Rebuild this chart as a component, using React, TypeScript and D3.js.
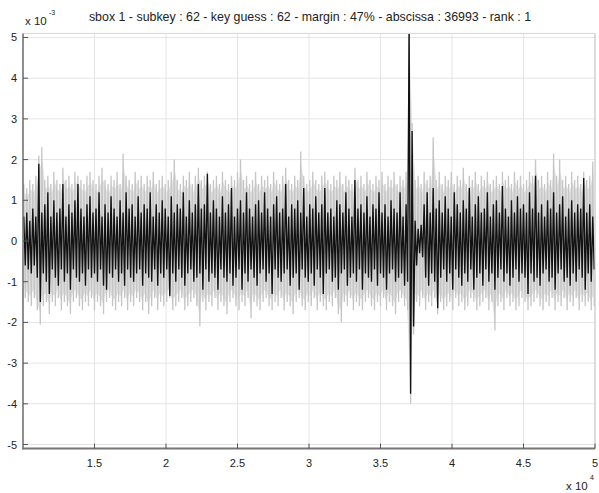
import React from "react";
import * as d3 from "d3";

const TITLE = "sbox 1 - subkey : 62 - key guess : 62 - margin : 47% - abscissa : 36993 - rank : 1";
const X_MIN = 10000;
const X_MAX = 50000;
const xTicks = [15000, 20000, 25000, 30000, 35000, 40000, 45000, 50000];
const xTickLabels = ["1.5", "2", "2.5", "3", "3.5", "4", "4.5", "5"];
const yTicks = [-5, -4, -3, -2, -1, 0, 1, 2, 3, 4, 5];

// Black trace (best key guess), per-bin max / min, units of 1e-3
const blackHi = [
  0.6, 0.7, 0.5, 0.8, 0.6, 1.9, 0.7, 0.9, 1.2, 0.6,
  1.0, 0.7, 0.8, 1.4, 0.6, 0.9, 0.7, 1.0, 1.4, 0.8,
  0.6, 0.9, 1.1, 0.7, 0.8, 1.2, 0.6, 0.9, 0.7, 1.1,
  0.8, 0.6, 1.0, 0.7, 1.2, 0.8, 0.9, 0.6, 1.1, 0.7,
  0.9, 0.8, 1.2, 0.6, 0.9, 0.7, 1.0, 0.8, 0.6, 1.1,
  0.7, 0.9, 0.8, 1.2, 0.6, 1.0, 0.7, 0.9, 1.4, 0.8,
  0.9, 1.65, 0.7, 1.0, 0.8, 0.6, 1.1, 0.7, 0.9, 1.3,
  0.6, 0.8, 1.0, 0.7, 1.2, 0.8, 0.6, 0.9, 1.0, 0.7,
  1.2, 0.8, 0.6, 0.9, 1.1, 0.7, 0.8, 1.4, 0.6, 0.9,
  0.8, 1.0, 0.7, 1.3, 0.6, 0.9, 0.8, 1.1, 0.7, 0.9,
  1.3, 0.7, 0.8, 0.6, 1.0, 0.9, 0.7, 1.2, 0.8, 0.6,
  1.5, 0.8, 0.9, 0.7, 1.1, 0.6, 0.9, 0.8, 1.2, 0.7,
  0.9, 0.6, 1.0, 0.8, 0.7, 1.2, 0.6, 0.9, 5.3, 2.7,
  0.5, 0.3, 0.4, 0.9, 1.2, 0.7, 1.3, 0.8, 1.0, 0.7,
  1.1, 0.8, 0.6, 1.2, 0.9, 0.7, 1.0, 0.8, 1.3, 0.6,
  0.9, 1.1, 0.7, 0.8, 1.2, 0.6, 0.9, 1.0, 0.7, 1.35,
  0.8, 0.6, 1.0, 0.7, 1.1, 0.8, 0.9, 0.7, 1.2, 0.8,
  1.6, 0.7, 0.9, 0.6, 1.0, 0.8, 1.2, 0.7, 0.9, 1.1,
  0.6, 0.8, 1.0, 0.7, 0.9, 0.8, 1.55, 0.7, 0.9, 0.6,
];
const blackLo = [
  -0.6, -0.7, -0.8, -0.6, -0.9, -1.5, -0.8, -1.0, -1.3, -0.7,
  -0.9, -1.1, -0.7, -1.0, -0.8, -1.2, -0.7, -0.9, -1.0, -0.8,
  -1.1, -0.7, -0.9, -0.8, -1.0, -0.7, -1.1, -1.2, -0.8, -0.9,
  -0.7, -1.0, -0.8, -1.1, -0.7, -0.9, -1.0, -0.8, -0.7, -1.1,
  -0.8, -0.9, -1.0, -0.7, -1.1, -0.8, -0.9, -0.7, -1.35, -0.8,
  -1.0, -0.7, -0.9, -1.1, -0.8, -0.7, -1.0, -0.9, -0.8, -1.2,
  -0.7, -1.0, -0.8, -0.9, -1.2, -0.7, -0.9, -1.0, -0.8, -1.1,
  -0.9, -0.7, -1.2, -0.8, -1.0, -0.7, -0.9, -1.1, -0.8, -0.7,
  -1.0, -0.8, -1.3, -0.7, -0.9, -1.0, -0.8, -0.7, -1.1, -0.9,
  -0.8, -1.2, -0.7, -0.9, -1.0, -0.8, -1.1, -0.7, -0.9, -1.3,
  -0.8, -0.7, -1.0, -0.9, -1.2, -0.8, -0.7, -1.1, -0.9, -0.8,
  -1.0, -0.7, -1.2, -0.8, -0.9, -1.0, -0.7, -1.1, -0.8, -0.9,
  -1.2, -0.8, -0.7, -1.0, -0.9, -0.8, -1.1, -1.0, -3.75, -2.1,
  -0.6, -0.3, -0.4, -0.9, -1.1, -0.8, -1.0, -1.65, -0.9, -0.7,
  -1.0, -0.8, -1.2, -0.7, -0.9, -1.1, -0.8, -1.0, -0.7, -1.2,
  -0.9, -0.8, -1.1, -0.7, -1.0, -0.8, -1.2, -0.9, -0.7, -1.0,
  -0.8, -1.1, -0.9, -0.7, -1.0, -0.8, -0.9, -1.3, -0.8, -1.0,
  -0.9, -1.1, -0.8, -0.7, -1.0, -0.9, -1.2, -0.8, -0.7, -1.0,
  -0.9, -1.1, -0.8, -1.0, -0.7, -0.9, -1.2, -0.8, -1.0, -0.7,
];
// Gray traces (other key guesses), per-bin max / min, units of 1e-3
const grayHi = [
  1.4, 1.3, 1.5, 1.4, 1.6, 2.1, 2.3, 1.5, 1.6, 1.4,
  1.7, 1.5, 1.4, 1.8, 1.5, 1.6, 1.4, 1.7, 1.6, 1.5,
  1.4, 1.6, 1.7, 1.5, 1.4, 1.6, 1.8, 1.5, 1.4, 1.6,
  1.5, 1.7, 1.4, 2.15, 1.6, 1.5, 1.4, 1.7, 1.5, 1.6,
  1.4, 1.6, 1.5, 1.7, 1.4, 1.5, 1.6, 1.4, 1.5, 1.7,
  2.0, 1.5, 1.4, 1.6, 1.5, 1.7, 1.4, 1.6, 1.8, 1.5,
  1.6, 1.7, 1.4, 1.5, 1.6, 1.4, 1.7, 1.5, 1.4, 1.6,
  1.5, 1.7, 2.0, 1.5, 1.6, 1.4, 1.5, 1.7, 1.4, 1.6,
  1.5, 1.6, 1.4, 1.7, 1.5, 1.4, 1.6, 1.8, 1.5, 1.4,
  1.6, 1.5, 2.2, 1.6, 1.4, 1.5, 1.7, 1.5, 1.4, 1.6,
  1.7, 1.5, 1.4, 1.6, 1.5, 1.7, 1.4, 1.6, 1.5, 1.4,
  1.8, 1.5, 1.6, 1.4, 1.7, 1.5, 1.4, 1.6, 1.5, 1.7,
  1.4, 1.6, 1.5, 1.7, 1.4, 1.6, 1.5, 1.7, 5.3, 2.9,
  1.5, 1.6, 1.4, 1.7, 1.5, 1.6, 2.55, 1.5, 1.7, 1.4,
  1.6, 1.5, 1.7, 1.4, 1.6, 1.5, 1.8, 1.4, 1.6, 1.5,
  1.7, 1.4, 1.6, 1.5, 1.7, 1.4, 1.5, 1.6, 1.4, 1.7,
  1.5, 1.6, 1.4, 1.7, 1.5, 1.6, 1.4, 1.5, 1.7, 1.6,
  2.0, 1.5, 1.6, 1.4, 1.7, 1.5, 2.15, 1.6, 2.0, 1.5,
  1.6, 1.4, 1.7, 1.5, 1.6, 1.4, 1.7, 1.5, 1.6, 1.95,
];
const grayLo = [
  -1.4, -1.5, -1.6, -1.4, -1.7, -2.05, -1.6, -1.5, -1.8, -1.5,
  -1.6, -1.4, -1.7, -1.5, -1.6, -1.8, -1.5, -1.4, -1.6, -1.7,
  -1.5, -1.6, -1.4, -1.7, -1.5, -1.6, -1.8, -1.5, -1.4, -1.6,
  -1.7, -1.5, -1.6, -1.4, -1.7, -1.5, -1.6, -1.4, -1.5, -1.7,
  -1.5, -1.8, -1.6, -1.4, -1.7, -1.5, -1.6, -1.5, -1.4, -1.7,
  -1.6, -1.5, -1.4, -1.7, -1.6, -1.5, -1.4, -1.6, -2.1, -1.5,
  -1.7, -1.5, -1.6, -1.4, -1.7, -1.5, -1.6, -1.8, -1.5, -1.4,
  -1.6, -1.7, -1.5, -1.6, -1.4, -1.9, -1.5, -1.6, -1.7, -1.5,
  -1.4, -1.6, -1.7, -1.5, -1.6, -1.4, -1.7, -1.5, -1.6, -1.8,
  -1.5, -1.4, -1.6, -1.7, -1.5, -1.6, -1.4, -1.7, -1.5, -1.6,
  -1.7, -1.5, -1.6, -1.4, -1.8, -2.0, -1.5, -1.6, -1.4, -1.7,
  -1.5, -1.6, -1.7, -1.5, -1.4, -1.6, -1.7, -1.5, -1.6, -1.4,
  -1.7, -1.5, -1.6, -1.8, -1.5, -1.4, -1.6, -1.7, -4.0, -2.3,
  -1.5, -1.6, -1.4, -1.7, -1.5, -1.6, -1.4, -1.8, -1.5, -1.7,
  -1.6, -1.5, -1.7, -1.4, -1.6, -1.5, -1.7, -1.6, -1.4, -1.5,
  -1.7, -1.6, -1.5, -1.4, -1.7, -1.5, -2.2, -1.6, -1.5, -1.7,
  -1.4, -1.6, -1.5, -1.7, -1.6, -1.4, -1.5, -1.7, -1.6, -1.5,
  -1.4, -1.6, -1.7, -1.5, -1.6, -1.4, -1.7, -1.5, -1.6, -1.4,
  -1.7, -1.5, -1.6, -1.4, -1.7, -1.5, -1.6, -1.5, -1.7, -1.6,
];

const W = 599;
const H = 493;
const L = 23;
const R = 595;
const T = 33.4;
const B = 448.6;
const FONT = "'Liberation Sans', Arial, Helvetica, sans-serif";

function zigzag(hi: number[], lo: number[]): [number, number][] {
  const n = hi.length;
  const step = (X_MAX - X_MIN) / n;
  const pts: [number, number][] = [];
  for (let i = 0; i < n; i++) {
    pts.push([X_MIN + (i + 0.25) * step, hi[i]]);
    pts.push([X_MIN + (i + 0.75) * step, lo[i]]);
  }
  return pts;
}

export default function App() {
  const x = d3.scaleLinear().domain([X_MIN, X_MAX]).range([L, R]);
  const y = d3.scaleLinear().domain([-5.1, 5.1]).range([B, T]);
  const line = d3
    .line<[number, number]>()
    .x((d) => x(d[0]))
    .y((d) => y(d[1]));
  const step = (X_MAX - X_MIN) / grayHi.length;
  const band = d3
    .area<number>()
    .x((_, i) => x(X_MIN + (i + 0.5) * step))
    .y0((_, i) => y(grayLo[i] * 0.85))
    .y1((d) => y(d * 0.85));
  const grayBand = band(grayHi) || "";
  const grayPath = line(zigzag(grayHi, grayLo)) || "";
  const blackPath = line(zigzag(blackHi, blackLo)) || "";

  return (
    <svg
      width={W}
      height={H}
      style={{ position: "absolute", left: 0, top: 0, background: "#fff" }}
      fontFamily={FONT}
    >
      <defs>
        <clipPath id="plotclip">
          <rect x={L} y={T} width={R - L} height={B - T} />
        </clipPath>
      </defs>
      <rect x={0} y={0} width={W} height={H} fill="#fff" />
      {/* grid */}
      {xTicks.map((t) => (
        <line key={"gx" + t} x1={x(t)} x2={x(t)} y1={T} y2={B} stroke="#e4e4e4" strokeWidth={1} />
      ))}
      {yTicks.map((t) => (
        <line key={"gy" + t} x1={L} x2={R} y1={y(t)} y2={y(t)} stroke="#e4e4e4" strokeWidth={1} />
      ))}
      {/* traces */}
      <g clipPath="url(#plotclip)">
        <path d={grayBand} fill="#e2e2e2" stroke="none" />
        <path d={grayPath} fill="none" stroke="#c6c6c6" strokeWidth={1.3} />
        <path d={blackPath} fill="none" stroke="#121212" strokeWidth={1.35} />
      </g>
      {/* box */}
      <line x1={L} x2={R} y1={T} y2={T} stroke="#d6d6d6" strokeWidth={1} />
      <line x1={R} x2={R} y1={T} y2={B} stroke="#c8c8c8" strokeWidth={1} />
      <line x1={L} x2={L} y1={T} y2={B + 1} stroke="#6a6a6a" strokeWidth={1.5} />
      <line x1={L - 0.5} x2={R} y1={B} y2={B} stroke="#777" strokeWidth={2} />
      {/* ticks */}
      {xTicks.map((t) => (
        <line key={"tx" + t} x1={x(t)} x2={x(t)} y1={B} y2={B - 5} stroke="#555" strokeWidth={1} />
      ))}
      {yTicks.map((t) => (
        <line key={"ty" + t} x1={L} x2={L + 5} y1={y(t)} y2={y(t)} stroke="#555" strokeWidth={1} />
      ))}
      {/* tick labels */}
      {xTicks.map((t, i) => (
        <text key={"lx" + t} x={x(t)} y={467} textAnchor="middle" fontSize={11} fill="#222">
          {xTickLabels[i]}
        </text>
      ))}
      {yTicks.map((t) => (
        <text key={"ly" + t} x={17} y={y(t) + 4} textAnchor="end" fontSize={11} fill="#222">
          {String(t)}
        </text>
      ))}
      {/* exponents */}
      <text x={25} y={25} fontSize={11.5} fill="#222">x 10</text>
      <text x={49} y={15} fontSize={7} fill="#222">-3</text>
      <text x={566} y={490} fontSize={11.5} fill="#222">x 10</text>
      <text x={590} y={480} fontSize={7} fill="#222">4</text>
      {/* title */}
      <text x={310} y={21} textAnchor="middle" fontSize={12.4} fill="#222">
        {TITLE}
      </text>
    </svg>
  );
}
